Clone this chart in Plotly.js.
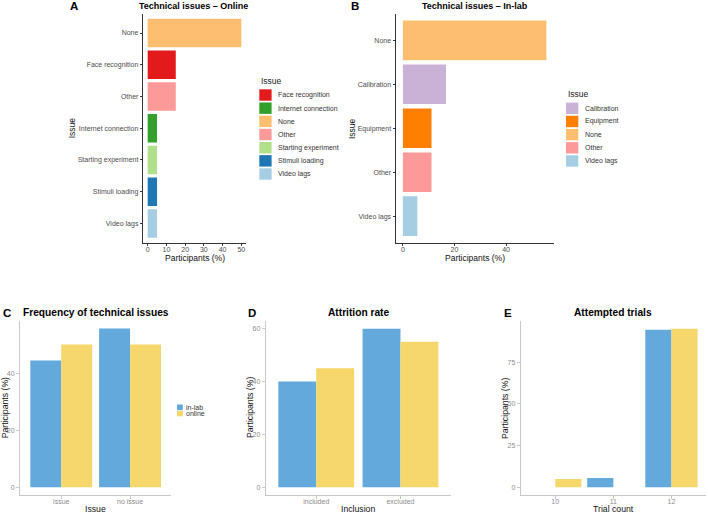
<!DOCTYPE html>
<html><head><meta charset="utf-8">
<script src="https://cdn.plot.ly/plotly-3.0.1.min.js"></script>
<style>html,body{margin:0;padding:0;background:#fff;} #chart{width:708px;height:513px;}</style>
</head><body><div id="chart"></div>
<script>
// ---------- DATA ----------
// Panel A: Technical issues - Online (participants %)
const onlineIssues = ['None','Face recognition','Other','Internet connection','Starting experiment','Stimuli loading','Video lags'];
const onlinePct = [50, 15, 15, 5, 5, 5, 5];
const onlineLegendOrder = ['Face recognition','Internet connection','None','Other','Starting experiment','Stimuli loading','Video lags'];
// Panel B: Technical issues - In-lab (participants %)
const inlabIssues = ['None','Calibration','Equipment','Other','Video lags'];
const inlabPct = [55.6, 16.7, 11.1, 11.1, 5.6];
const inlabLegendOrder = ['Calibration','Equipment','None','Other','Video lags'];
// Panel C: Frequency of technical issues
const freqCats = ['issue','no issue'];
const freqInlab = [44.4, 55.6];
const freqOnline = [50, 50];
// Panel D: Attrition rate
const inclCats = ['included','excluded'];
const inclInlab = [40, 60];
const inclOnline = [45, 55];
// Panel E: Attempted trials
const trialInlabX = [11, 12];
const trialInlabY = [5.6, 94.4];
const trialOnlineX = [10, 12];
const trialOnlineY = [5, 95];
const trialTicks = [10, 11, 12];
const groupNames = ['in-lab', 'online'];

// ---------- STYLE ----------
const issueColors = {
  'Face recognition':'#E31A1C','Internet connection':'#33A02C','None':'#FDBF6F',
  'Other':'#FB9A99','Starting experiment':'#B2DF8A','Stimuli loading':'#1F78B4',
  'Video lags':'#A6CEE3','Calibration':'#CAB2D6','Equipment':'#FF7F00'
};
const groupColors = ['#64A9DB', '#F5D76C'];
const W = 708, H = 513;
const FONT = 'Liberation Sans, Arial, sans-serif';
const px = v => v / W;
const py = v => 1 - v / H;
const dx = (a, b) => [a / W, b / W];
const dy = (top, bottom) => [1 - bottom / H, 1 - top / H];

const traces = [
  {type:'bar', orientation:'h', x:onlinePct, y:onlineIssues, xaxis:'x', yaxis:'y',
   marker:{color:onlineIssues.map(c => issueColors[c])}, showlegend:false},
  {type:'bar', orientation:'h', x:inlabPct, y:inlabIssues, xaxis:'x2', yaxis:'y2',
   marker:{color:inlabIssues.map(c => issueColors[c])}, showlegend:false},
  {type:'bar', name:groupNames[0], x:freqCats, y:freqInlab, xaxis:'x3', yaxis:'y3', marker:{color:groupColors[0]}, showlegend:false},
  {type:'bar', name:groupNames[1], x:freqCats, y:freqOnline, xaxis:'x3', yaxis:'y3', marker:{color:groupColors[1]}, showlegend:false},
  {type:'bar', name:groupNames[0], x:inclCats, y:inclInlab, xaxis:'x4', yaxis:'y4', marker:{color:groupColors[0]}, showlegend:false},
  {type:'bar', name:groupNames[1], x:inclCats, y:inclOnline, xaxis:'x4', yaxis:'y4', marker:{color:groupColors[1]}, showlegend:false},
  {type:'bar', name:groupNames[0], x:trialInlabX, y:trialInlabY, xaxis:'x5', yaxis:'y5', marker:{color:groupColors[0]}, showlegend:false},
  {type:'bar', name:groupNames[1], x:trialOnlineX, y:trialOnlineY, xaxis:'x5', yaxis:'y5', marker:{color:groupColors[1]}, showlegend:false}
];

const topAxis = {
  showline:true, linecolor:'#333', linewidth:1.2, ticks:'outside', ticklen:2, tickcolor:'#333',
  showgrid:false, zeroline:false, tickfont:{family:FONT, size:7, color:'#4d4d4d'}, fixedrange:true
};
const botAxis = {
  showline:true, linecolor:'#c8c8c8', linewidth:1, ticks:'outside', ticklen:3, tickcolor:'#c8c8c8',
  showgrid:false, zeroline:false, tickfont:{family:FONT, size:7, color:'#8c8c8c'}, fixedrange:true
};

const layout = {
  width:W, height:H, margin:{l:0, r:0, t:0, b:0},
  paper_bgcolor:'#fff', plot_bgcolor:'rgba(0,0,0,0)',
  barmode:'group', bargap:0.1, bargroupgap:0, showlegend:false,
  font:{family:FONT},
  xaxis: Object.assign({}, topAxis, {domain:dx(143,246), anchor:'y', range:[-2.5,52.5], tick0:0, dtick:10, ticklabelstandoff:-2}),
  yaxis: Object.assign({}, topAxis, {domain:dy(14,242.5), anchor:'x', type:'category',
    categoryorder:'array', categoryarray:onlineIssues, range:[6.6,-0.6]}),
  xaxis2: Object.assign({}, topAxis, {domain:dx(395.7,553.5), anchor:'y2', range:[-2.78,58.36], tick0:0, dtick:20, ticklabelstandoff:-2}),
  yaxis2: Object.assign({}, topAxis, {domain:dy(14,242.5), anchor:'x2', type:'category',
    categoryorder:'array', categoryarray:inlabIssues, range:[4.6,-0.6]}),
  xaxis3: Object.assign({}, botAxis, {domain:dx(20,171.3), anchor:'y3', type:'category', range:[-0.6,1.6], ticklabelstandoff:-4}),
  yaxis3: Object.assign({}, botAxis, {domain:dy(320.7,495.3), anchor:'x3', range:[-2.78,58.36], tick0:0, dtick:20}),
  xaxis4: Object.assign({}, botAxis, {domain:dx(265.7,451), anchor:'y4', type:'category', range:[-0.6,1.6], ticklabelstandoff:-4}),
  yaxis4: Object.assign({}, botAxis, {domain:dy(320.7,495.3), anchor:'x4', range:[-3,63], tick0:0, dtick:20}),
  xaxis5: Object.assign({}, botAxis, {domain:dx(520.7,706), anchor:'y5', range:[9.405,12.595], tickvals:trialTicks, ticklabelstandoff:-4}),
  yaxis5: Object.assign({}, botAxis, {domain:dy(320.7,495.3), anchor:'x5', range:[-4.75,99.75], tick0:0, dtick:25}),
  shapes:[], annotations:[]
};

function ann(text, x, y, opts) {
  layout.annotations.push(Object.assign({
    text:text, x:px(x), y:py(y), xref:'paper', yref:'paper', showarrow:false,
    xanchor:'center', yanchor:'middle', font:{family:FONT, size:10, color:'#000'}
  }, opts || {}));
}
const titleFont = sz => ({family:FONT, size:sz, color:'#000', weight:'bold'});
const axFont = sz => ({family:FONT, size:sz, color:'#111'});
// panel titles
ann('<b>Technical issues – Online</b>', 193, 5.8, {font:titleFont(9)});
ann('<b>Technical issues – In-lab</b>', 474.5, 5.8, {font:titleFont(9)});
ann('<b>Frequency of technical issues</b>', 95.5, 312.7, {font:titleFont(10.2)});
ann('<b>Attrition rate</b>', 358.3, 312.7, {font:titleFont(10.2)});
ann('<b>Attempted trials</b>', 613.3, 312.7, {font:titleFont(10.2)});
// panel letters
[['A',68,6.3],['B',349,6.3],['C',0.5,312.7],['D',246,312.7],['E',501.5,312.7]].forEach(l => {
  ann('<b>' + l[0] + '</b>', l[1], l[2], {xanchor:'left', font:titleFont(11.5)});
});
// axis titles
ann('Participants (%)', 194.5, 257.7, {font:axFont(8.5)});
ann('Issue', 72, 128.3, {textangle:-90, font:axFont(8.5)});
ann('Participants (%)', 474.6, 257.7, {font:axFont(8.5)});
ann('Issue', 352.7, 128.3, {textangle:-90, font:axFont(8.5)});
ann('Issue', 95.7, 509.2, {font:axFont(8.7)});
ann('Participants (%)', 5.3, 408, {textangle:-90, font:axFont(8.7)});
ann('Inclusion', 358.3, 509.2, {font:axFont(8.7)});
ann('Participants (%)', 250, 408, {textangle:-90, font:axFont(8.7)});
ann('Trial count', 613.4, 509.2, {font:axFont(8.7)});
ann('Participants (%)', 505, 408, {textangle:-90, font:axFont(8.7)});

// manual colour keys
function issueLegend(names, x0, yTitle, yFirst, step) {
  ann('Issue', x0, yTitle, {xanchor:'left', font:{family:FONT, size:8.5, color:'#222'}});
  names.forEach((n, i) => {
    const yc = yFirst + i * step;
    layout.shapes.push({type:'rect', xref:'paper', yref:'paper', x0:px(x0), x1:px(x0+12.3),
      y0:py(yc+5.7), y1:py(yc-5.7), fillcolor:issueColors[n], line:{width:0}});
    ann(n, x0 + 17, yc, {xanchor:'left', font:{family:FONT, size:7, color:'#333'}});
  });
}
issueLegend(onlineLegendOrder, 259.3, 80.7, 95, 13.17);
issueLegend(inlabLegendOrder, 566, 94.2, 108.3, 13.17);
groupNames.forEach((n, i) => {
  const yc = 407.3 + i * 6.2;
  layout.shapes.push({type:'rect', xref:'paper', yref:'paper', x0:px(177), x1:px(182.8),
    y0:py(yc+2.8), y1:py(yc-2.8), fillcolor:groupColors[i], line:{width:0}});
  ann(n, 184, yc, {xanchor:'left', font:{family:FONT, size:7, color:'#333'}});
});

Plotly.newPlot('chart', traces, layout, {displayModeBar:false, staticPlot:true});
</script>
</body></html>
